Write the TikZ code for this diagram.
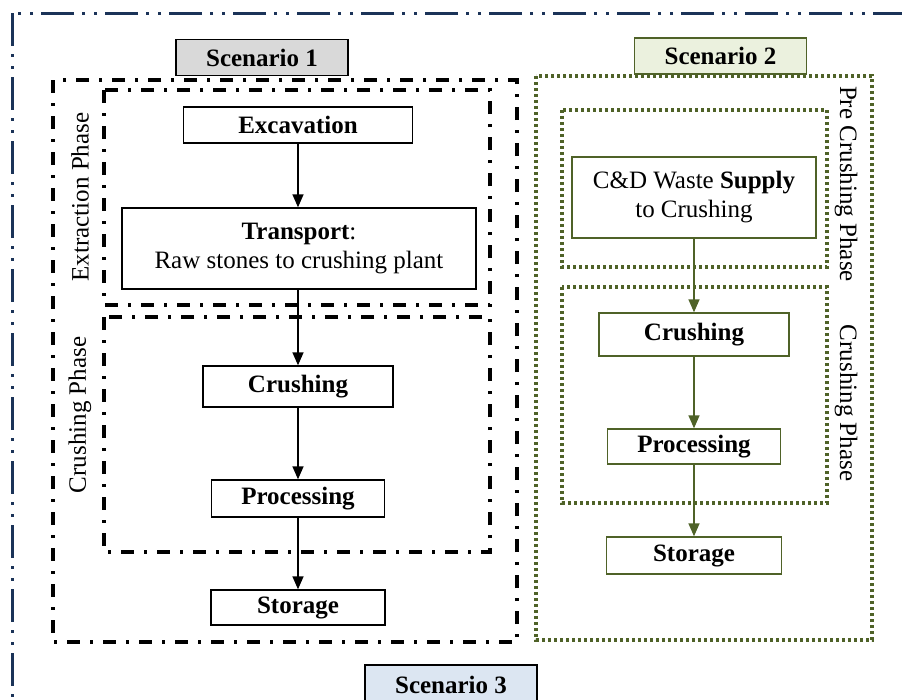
\documentclass[tikz,border=0pt]{standalone}
\usepackage{fontspec}
\setmainfont{Liberation Serif}
\usetikzlibrary{arrows.meta}
\definecolor{navy}{HTML}{1B3358}
\definecolor{olive}{HTML}{4F6228}
\definecolor{lgray}{HTML}{D9D9D9}
\definecolor{lgreen}{HTML}{EBF1DE}
\definecolor{lblue}{HTML}{DCE6F2}
\begin{document}
\begin{tikzpicture}[x=1pt,y=-1pt,
  every node/.style={font=\fontsize{25}{29}\selectfont},
  proc/.style={draw=black,line width=1.4pt,inner sep=0pt,align=center,fill=white},
  gproc/.style={proc,draw=olive},
  flow/.style={-{Triangle[width=11pt,length=13pt]},line width=1.5pt,draw=black},
  gflow/.style={-{Triangle[width=11pt,length=13pt]},line width=1.5pt,draw=olive,color=olive},
  dashdot/.style={draw=black,line width=3.2pt,dash pattern=on 13pt off 10pt on 3pt off 10pt},
  gdot/.style={draw=olive,line width=3.2pt,dash pattern=on 3pt off 3pt},
  outerframe/.style={draw=navy,line width=3pt,dash pattern=on 33pt off 8pt on 3pt off 9pt on 3pt off 8pt},
  label/.style={line width=1.2pt,inner sep=0pt,minimum width=172,minimum height=36,font=\fontsize{25}{29}\selectfont\bfseries},
  phase/.style={font=\fontsize{25}{29}\selectfont}
]
\useasboundingbox (0,0) rectangle (902,699);
\clip (0,0) rectangle (902,699);

% outer frame (scenario 3)
\draw[outerframe] (12,13) rectangle (960,760);

% scenario 1 frames
\draw[dashdot] (53,80) rectangle (517,642);
\draw[dashdot] (104,90) rectangle (490,305);
\draw[dashdot] (104,317) rectangle (490,552);

% scenario 2 frames
\draw[gdot] (536,76) rectangle (872,640);
\draw[gdot] (562,110) rectangle (827,267);
\draw[gdot] (562,287) rectangle (827,503);

% scenario labels
\node[label,draw=black,fill=lgray] (s1) at (262,57.5) {Scenario 1};
\node[label,draw=olive,fill=lgreen] (s2) at (720.5,56) {Scenario 2};
\node[label,draw=black,fill=lblue,minimum height=40] (s3) at (451,685) {Scenario 3};

% phase labels
\node[phase,rotate=90] (pe) at (80,197) {Extraction Phase};
\node[phase,rotate=90] (pc) at (80,415) {Crushing Phase};
\node[phase,rotate=-90] (qp) at (846,184) {Pre Crushing Phase};
\node[phase,rotate=-90] (qc) at (846,403) {Crushing Phase};

% scenario 1 nodes
\node[proc,minimum width=229,minimum height=36] (a1) at (298,125) {\textbf{Excavation}};
\node[proc,minimum width=354,minimum height=81] (a2) at (299,248.5) {\textbf{Transport}:\\Raw stones to crushing plant};
\node[proc,minimum width=190,minimum height=41] (a3) at (298,386.5) {\textbf{Crushing}};
\node[proc,minimum width=173,minimum height=37] (a4) at (298,498.5) {\textbf{Processing}};
\node[proc,minimum width=174,minimum height=35] (a5) at (298,607.5) {\textbf{Storage}};

\draw[flow] (a1.south) -- (a1.south |- a2.north);
\draw[flow] (a1.south |- a2.south) -- (a3.north);
\draw[flow] (a3.south) -- (a4.north);
\draw[flow] (a4.south) -- (a5.north);

% scenario 2 nodes
\node[gproc,minimum width=244,minimum height=81] (b1) at (694,197.5) {C\&D Waste \textbf{Supply}\\to Crushing};
\node[gproc,minimum width=190,minimum height=43] (b2) at (694,334.5) {\textbf{Crushing}};
\node[gproc,minimum width=173,minimum height=35] (b3) at (694,446.5) {\textbf{Processing}};
\node[gproc,minimum width=175,minimum height=37] (b4) at (694,555.5) {\textbf{Storage}};

\draw[gflow] (b1.south) -- (b2.north);
\draw[gflow] (b2.south) -- (b3.north);
\draw[gflow] (b3.south) -- (b4.north);
\end{tikzpicture}
\end{document}
